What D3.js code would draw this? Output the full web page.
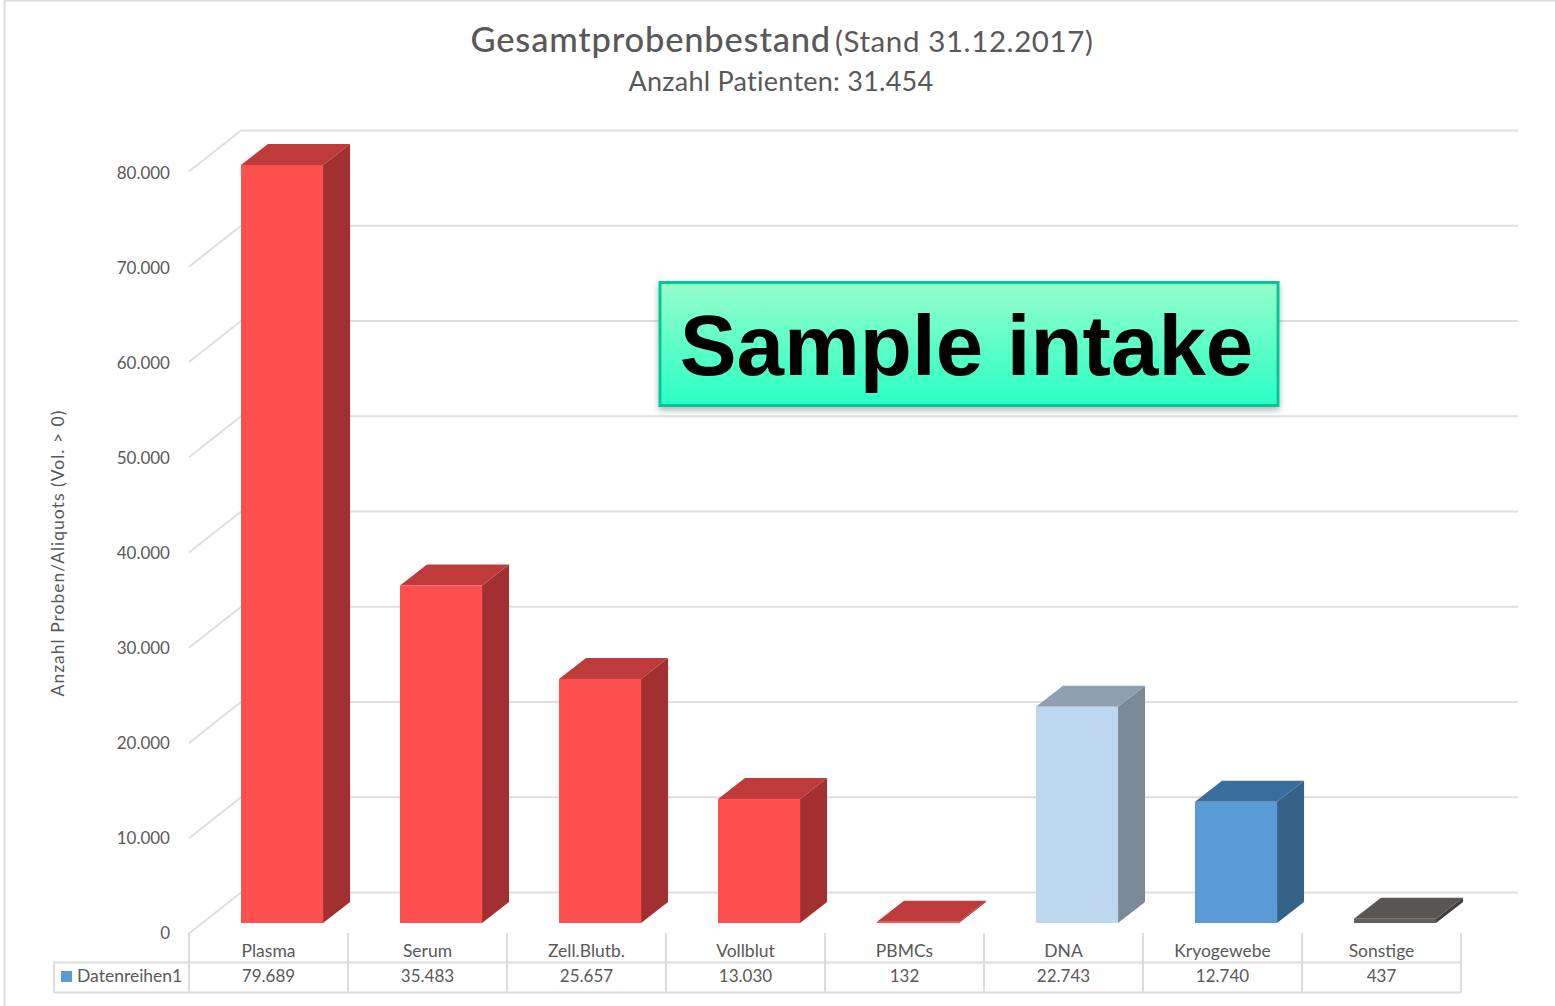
<!DOCTYPE html>
<html>
<head>
<meta charset="utf-8">
<script src="https://cdnjs.cloudflare.com/ajax/libs/d3/7.8.5/d3.min.js"></script>
<style>
    html, body { margin: 0; padding: 0; background: #fff; }
    svg { display: block; }
    text { font-family: Lato, "Open Sans", sans-serif; fill: #595959; }
</style>
</head>
<body>
<svg class="svg-chart" width="1555" height="1006"></svg>
<script>
const categories = ["Plasma", "Serum", "Zell.Blutb.", "Vollblut", "PBMCs", "DNA", "Kryogewebe", "Sonstige"]
const values = [79689, 35483, 25657, 13030, 132, 22743, 12740, 437]
const yTicks = [0, 10000, 20000, 30000, 40000, 50000, 60000, 70000, 80000]
const seriesName = "Datenreihen1"

// front, side, top of each bar
const barColors = [
    ["#ff5050", "#a33030", "#bf3b3b"],
    ["#ff5050", "#a33030", "#bf3b3b"],
    ["#ff5050", "#a33030", "#bf3b3b"],
    ["#ff5050", "#a33030", "#bf3b3b"],
    ["#ff5050", "#a33030", "#bf3b3b"],
    ["#bdd7ee", "#7a8a99", "#8e9fb0"],
    ["#5b9bd5", "#376288", "#3a6c9c"],
    ["#5f5f5f", "#3f3f3f", "#595552"]
]

const de = d3.formatLocale({ decimal: ",", thousands: ".", grouping: [3], currency: ["", " €"] })
const fmt = de.format(",d")

var svg = d3.select(".svg-chart")

// picture frame, only top and left show
svg.append("path")
    .attr("d", "M4.5,1006V0.5H1555")
    .attr("fill", "none")
    .attr("stroke", "#dcdcdc")
    .attr("stroke-width", 2)

// titles
var title = svg.append("text")
    .attr("x", 782)
    .attr("y", 52)
    .attr("text-anchor", "middle")
title.append("tspan")
    .attr("font-size", 34.5)
    .attr("font-weight", 500)
    .attr("letter-spacing", 0.8)
    .text("Gesamtprobenbestand")
title.append("tspan")
    .attr("dx", 4)
    .attr("font-size", 29.5)
    .attr("letter-spacing", 0.6)
    .text("(Stand 31.12.2017)")

svg.append("text")
    .attr("x", 781)
    .attr("y", 91)
    .attr("text-anchor", "middle")
    .attr("font-size", 27)
    .attr("letter-spacing", 0.25)
    .text("Anzahl Patienten: 31.454")

// scales
var x_scale = d3.scaleBand()
    .domain(categories)
    .range([189, 1461])
var y_back = d3.scaleLinear()
    .domain([0, 80000])
    .range([892.5, 130.5])
var y_bar = d3.scaleLinear()
    .domain([0, 80000])
    .range([923, 162])
var y_label = d3.scaleLinear()
    .domain([0, 80000])
    .range([933.5, 173.5])

const floorDx = 52, floorDy = 41 // front edge of floor to the back wall
const barDx = 27, barDy = 21 // depth of one bar
const barW = x_scale.bandwidth() * 0.516

// walls
var grid = svg.append("g")
    .attr("fill", "none")
    .attr("stroke", "#dedede")
    .attr("stroke-width", 2)
grid.selectAll("path")
    .data(yTicks)
    .enter()
    .append("path")
    .attr("d", d => `M${x_scale.range()[0]},${y_back(d) + floorDy}L${x_scale.range()[0] + floorDx},${y_back(d)}H1518`)

// y axis labels sit on the front edge
var y_axis = d3.axisLeft(y_label)
    .tickValues(yTicks)
    .tickFormat(fmt)
    .tickSize(0)
    .tickPadding(0)
var axisG = svg.append("g")
    .attr("transform", "translate(170,0)")
    .call(y_axis)
axisG.select(".domain").remove()
axisG.selectAll("text")
    .attr("font-size", 17)
    .attr("font-family", "Lato, sans-serif")
    .style("fill", "#595959")

svg.append("text")
    .attr("transform", "translate(64,553) rotate(-90)")
    .attr("text-anchor", "middle")
    .attr("font-size", 17.5)
    .attr("letter-spacing", 1)
    .text("Anzahl Proben/Aliquots (Vol. > 0)")

// bars
var g = svg.selectAll(".bar")
    .data(categories)
    .enter()
    .append("g")
    .attr("class", "bar")

const left = (d) => x_scale(d) + floorDx
const top_ = (i) => y_bar(values[i])

g.append("path") // side
    .attr("fill", (d, i) => barColors[i][1])
    .attr("d", (d, i) => {
        let r = left(d) + barW
        return `M${r},${y_bar(0)}V${top_(i)}l${barDx},${-barDy}V${y_bar(0) - barDy}Z`
    })
g.append("path") // top
    .attr("fill", (d, i) => barColors[i][2])
    .attr("d", (d, i) => `M${left(d)},${top_(i)}h${barW}l${barDx},${-barDy}h${-barW}Z`)
g.append("rect") // front
    .attr("fill", (d, i) => barColors[i][0])
    .attr("x", d => left(d))
    .attr("y", (d, i) => top_(i))
    .attr("width", barW)
    .attr("height", (d, i) => y_bar(0) - top_(i))

// data table
const tableTop = 933, rowLine = 962.5, tableBottom = 992.5, tableLeft = 54
var table = svg.append("g")
    .attr("stroke", "#dcdcdc")
    .attr("stroke-width", 2)
    .attr("fill", "none")
table.selectAll(".col")
    .data(categories.concat(["end"]))
    .enter()
    .append("line")
    .attr("class", "col")
    .attr("x1", (d, i) => x_scale.range()[0] + i * x_scale.step())
    .attr("x2", (d, i) => x_scale.range()[0] + i * x_scale.step())
    .attr("y1", tableTop)
    .attr("y2", tableBottom)
table.append("path")
    .attr("d", `M${tableLeft},${tableBottom}V${rowLine}H${x_scale.range()[1]}M${tableLeft},${tableBottom}H${x_scale.range()[1]}`)

svg.selectAll(".cat")
    .data(categories)
    .enter()
    .append("text")
    .attr("class", "cat")
    .attr("x", d => x_scale(d) + x_scale.bandwidth() / 2)
    .attr("y", 957)
    .attr("text-anchor", "middle")
    .attr("font-size", 17.5)
    .text(d => d)

svg.selectAll(".val")
    .data(values)
    .enter()
    .append("text")
    .attr("class", "val")
    .attr("x", (d, i) => x_scale(categories[i]) + x_scale.bandwidth() / 2)
    .attr("y", 982)
    .attr("text-anchor", "middle")
    .attr("font-size", 17)
    .text(d => fmt(d))

svg.append("rect")
    .attr("x", 61)
    .attr("y", 971)
    .attr("width", 11)
    .attr("height", 11)
    .attr("fill", "#5b9bd5")
svg.append("text")
    .attr("x", 77)
    .attr("y", 982)
    .attr("font-size", 17.5)
    .text(seriesName)

// green overlay box
var defs = svg.append("defs")
var grad = defs.append("linearGradient")
    .attr("id", "boxFill")
    .attr("x1", 0).attr("y1", 0).attr("x2", 0).attr("y2", 1)
grad.append("stop").attr("offset", "0%").attr("stop-color", "#96fdca")
grad.append("stop").attr("offset", "100%").attr("stop-color", "#29ffc6")
var shadow = defs.append("filter")
    .attr("id", "boxShadow")
    .attr("x", "-5%").attr("y", "-10%").attr("width", "110%").attr("height", "125%")
shadow.append("feDropShadow")
    .attr("dx", 0).attr("dy", 3).attr("stdDeviation", 3)
    .attr("flood-color", "#000").attr("flood-opacity", 0.3)

svg.append("rect")
    .attr("x", 660)
    .attr("y", 282.5)
    .attr("width", 618)
    .attr("height", 123)
    .attr("fill", "url(#boxFill)")
    .attr("stroke", "#00c896")
    .attr("stroke-width", 3)
    .attr("filter", "url(#boxShadow)")
svg.append("text")
    .attr("x", 966.5)
    .attr("y", 375)
    .attr("text-anchor", "middle")
    .attr("font-size", 85.3)
    .attr("font-weight", 700)
    .style("font-family", "'Liberation Sans', Arial, sans-serif")
    .style("fill", "#000")
    .text("Sample intake")
</script>
</body>
</html>
